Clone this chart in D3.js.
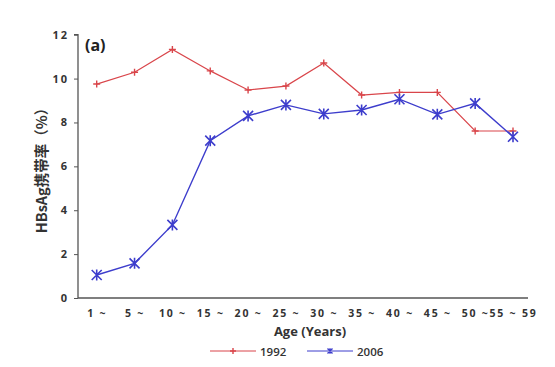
<!DOCTYPE html>
<html><head><meta charset="utf-8">
<script src="https://cdn.jsdelivr.net/npm/d3@7"></script>
<style>body{margin:0;background:#fff;} svg{display:block;}</style>
</head><body>
<svg id="c" width="555" height="367"></svg>
<script>
const categories = ["1 ~","5 ~","10 ~","15 ~","20 ~","25 ~","30 ~","35 ~","40 ~","45 ~","50 ~","55 ~ 59"];
const series1992 = [9.75,10.29,11.33,10.35,9.48,9.66,10.71,9.25,9.37,9.37,7.61,7.61];
const series2006 = [1.05,1.58,3.33,7.17,8.30,8.80,8.39,8.57,9.06,8.37,8.87,7.35];
const yTicks = [0,2,4,6,8,10,12];
const seriesNames = ["1992","2006"];

(function(){
const svg = d3.select("#c");
const mLeft = 78, mRight = 528, mTop = 34.7, mBottom = 298;
const x = d3.scalePoint().domain(categories).range([96.7, 513]);
const y = d3.scaleLinear().domain([0,12]).range([mBottom, mTop]);
const font = "'Open Sans', 'Noto Sans', Arial, sans-serif";

// y axis
const ya = svg.append("g").attr("transform",`translate(${mLeft},0)`)
  .call(d3.axisLeft(y).tickValues(yTicks).tickSize(4).tickPadding(5).tickFormat(d3.format("d")));
ya.select(".domain").attr("stroke","#555").attr("stroke-width",1.3).attr("d",`M-4,${mTop}H0V${mBottom}`);
ya.selectAll(".tick line").attr("stroke","#555");
ya.selectAll(".tick text").attr("font-family",font).attr("font-size",11).attr("font-weight","bold")
  .attr("fill","#333").style("letter-spacing","2px");

// x axis
const xa = svg.append("g").attr("transform",`translate(0,${mBottom})`)
  .call(d3.axisBottom(x).tickSize(0).tickPadding(12));
xa.select(".domain").attr("stroke","#555").attr("stroke-width",1.3).attr("d",`M${mLeft},0H${mRight}`);
xa.selectAll(".tick text").attr("font-family",font).attr("font-size",10.5).attr("font-weight","bold")
  .attr("fill","#333").style("letter-spacing","1.8px");

// lines
const line = d3.line().x((d,i)=>x(categories[i])).y(d=>y(d));
const c1 = "#d9454a", c2 = "#3d3dcc";
svg.append("path").datum(series1992).attr("d",line).attr("fill","none").attr("stroke",c1).attr("stroke-width",1.2);
svg.append("path").datum(series2006).attr("d",line).attr("fill","none").attr("stroke",c2).attr("stroke-width",1.4);

// markers
const plus = (g, cx, cy, s, col, w) => {
  g.append("path").attr("d",`M${cx-s},${cy}H${cx+s}M${cx},${cy-s}V${cy+s}`).attr("stroke",col).attr("stroke-width",w);
};
const star = (g, cx, cy, s, col, w) => {
  g.append("path").attr("d",`M${cx-s},${cy-s}L${cx+s},${cy+s}M${cx-s},${cy+s}L${cx+s},${cy-s}M${cx},${cy-s*1.1}V${cy+s*1.1}`)
    .attr("stroke",col).attr("stroke-width",w);
};
const gm = svg.append("g");
series1992.forEach((v,i)=>plus(gm, x(categories[i]), y(v), 3.5, c1, 1.4));
series2006.forEach((v,i)=>star(gm, x(categories[i]), y(v), 5, c2, 1.6));

// (a)
svg.append("text").attr("x",85).attr("y",51).attr("font-family",font).attr("font-size",16)
  .attr("font-weight","bold").attr("fill","#222").text("(a)");

// axis titles
svg.append("text").attr("x",310).attr("y",336).attr("text-anchor","middle").attr("font-family",font)
  .attr("font-size",13).attr("font-weight","bold").attr("fill","#333").text("Age (Years)");
svg.append("text").attr("transform","translate(47,167) rotate(-90)").attr("text-anchor","middle")
  .attr("font-family","'Noto Sans CJK SC', sans-serif").attr("font-size",14.5).attr("font-weight","bold")
  .attr("fill","#333").text("HBsAg携带率（%）");

// legend
const lg = svg.append("g");
const legendItems = [{name:seriesNames[0], col:c1, x0:210, mk:plus, s:3},{name:seriesNames[1], col:c2, x0:307, mk:star, s:2.5}];
legendItems.forEach(d=>{
  lg.append("line").attr("x1",d.x0).attr("x2",d.x0+46).attr("y1",351).attr("y2",351).attr("stroke",d.col).attr("stroke-width",1);
  d.mk(lg, d.x0+23, 351, d.s, d.col, 1.4);
  lg.append("text").attr("x",d.x0+50).attr("y",355.5).attr("font-family",font).attr("font-size",11.5)
    .attr("font-weight","600").attr("fill","#333").text(d.name);
});
})();
</script>
</body></html>
